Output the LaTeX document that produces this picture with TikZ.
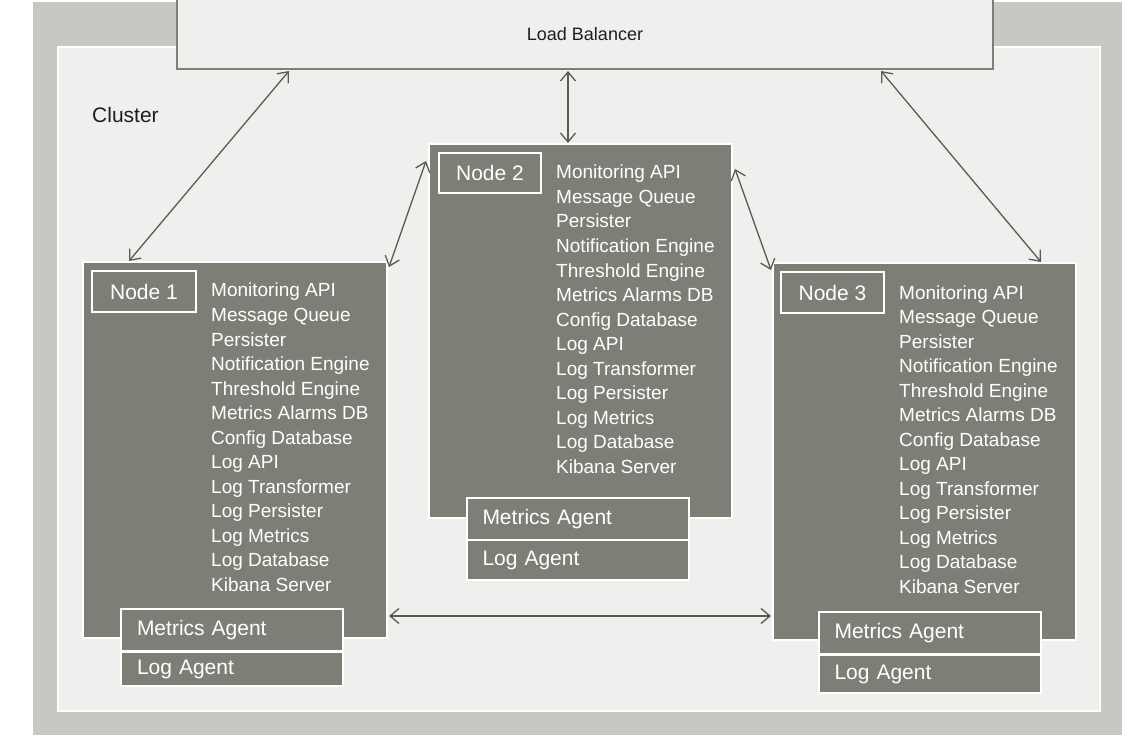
\documentclass[tikz,border=0pt]{standalone}
\usepackage{fontspec}
\setmainfont{Liberation Sans}
\usetikzlibrary{arrows.meta,calc}
\definecolor{outerg}{RGB}{200,200,195}
\definecolor{innerg}{RGB}{239,239,237}
\definecolor{nodeg}{RGB}{127,126,118}
\definecolor{lbline}{RGB}{127,127,122}
\definecolor{arrowc}{RGB}{90,90,85}
\definecolor{txt}{RGB}{30,30,30}
\tikzset{
  nodebox/.style={draw=white,line width=2pt,fill=nodeg,rectangle,inner sep=0pt},
  labelbox/.style={draw=white,line width=2pt,fill=nodeg,rectangle,inner sep=0pt,text=white,font=\fontsize{21}{24}\selectfont},
  agentbox/.style={draw=white,line width=2pt,fill=nodeg,rectangle,inner xsep=16pt,inner ysep=0pt,text width=190pt,align=left,text=white,font=\fontsize{21}{24}\selectfont},
  listline/.style={anchor=base west,inner sep=0pt,text=white,font=\fontsize{19}{22}\selectfont},
  link/.style={draw=arrowc,line width=1.3pt,{Straight Barb[length=9pt,width=15pt]}-{Straight Barb[length=9pt,width=15pt]}}
}
\begin{document}
\begin{tikzpicture}[x=1pt,y=-1pt]
\useasboundingbox (0,0) rectangle (1124,735);
\fill[outerg] (33,2) rectangle (1122,735);
\draw[white,line width=2pt,fill=innerg] (58,47) rectangle (1100,711);
\node[draw=lbline,line width=2pt,fill=innerg,rectangle,minimum width=816pt,minimum height=70pt,inner sep=0pt,text=txt,font=\fontsize{18}{20}\selectfont] (lb) at (585,34) {Load Balancer};
\node[anchor=west,inner sep=0pt,text=txt,font=\fontsize{21}{24}\selectfont] (cl) at (92,115) {Cluster};

% Node 1
\node[nodebox,minimum width=304pt,minimum height=376pt] (n1) at (235,450) {};
\node[labelbox,minimum width=104pt,minimum height=41pt] (n1l) at (144,291.5) {Node 1};
% Node 2
\node[nodebox,minimum width=303pt,minimum height=374pt] (n2) at (580.5,331) {};
\node[labelbox,minimum width=102pt,minimum height=40pt] (n2l) at (490,173) {Node 2};
% Node 3
\node[nodebox,minimum width=303pt,minimum height=377pt] (n3) at (924.5,451.5) {};
\node[labelbox,minimum width=103pt,minimum height=41pt] (n3l) at (832.5,292.5) {Node 3};

\foreach \t [count=\i from 0] in {Monitoring API,Message Queue,Persister,Notification Engine,Threshold Engine,Metrics Alarms DB,Config Database,Log API,Log Transformer,Log Persister,Log Metrics,Log Database,Kibana Server}{
  \node[listline] (a\i) at (211,297+24.5*\i) {\t};
  \node[listline] (b\i) at (556,179+24.5*\i) {\t};
  \node[listline] (c\i) at (899,299+24.5*\i) {\t};
}

% agents
\node[agentbox,minimum height=42pt] (m1) at (232,630) {Metrics Agent};
\node[agentbox,minimum height=34pt] (g1) at (232,669) {Log Agent};
\node[agentbox,minimum height=42pt] (m2) at (577.5,519) {Metrics Agent};
\node[agentbox,minimum height=40pt] (g2) at (577.5,560) {Log Agent};
\node[agentbox,minimum height=42pt] (m3) at (929.5,633) {Metrics Agent};
\node[agentbox,minimum height=38pt] (g3) at (929.5,674) {Log Agent};

% connectors
\draw[link] ([xshift=113pt,yshift=-1pt]lb.south west) -- ([xshift=47pt]n1.north west);
\draw[link] ([xshift=-17pt,yshift=-1pt]lb.south) -- ([xshift=-12.5pt]n2.north);
\draw[link] ([xshift=-113pt,yshift=-1pt]lb.south east) -- ([xshift=-36pt]n3.north east);
\draw[link] ([xshift=1pt,yshift=-6pt]n1.north east) -- ([xshift=-2pt,yshift=-18pt]n2.north west);
\draw[link] ([xshift=2pt,yshift=-26pt]n2.north east) -- ([xshift=-1pt,yshift=-8pt]n3.north west);
\draw[link] ([xshift=1pt,yshift=-166pt]n1.east) -- ([xshift=-1pt,yshift=-164.5pt]n3.west);
\end{tikzpicture}
\end{document}
